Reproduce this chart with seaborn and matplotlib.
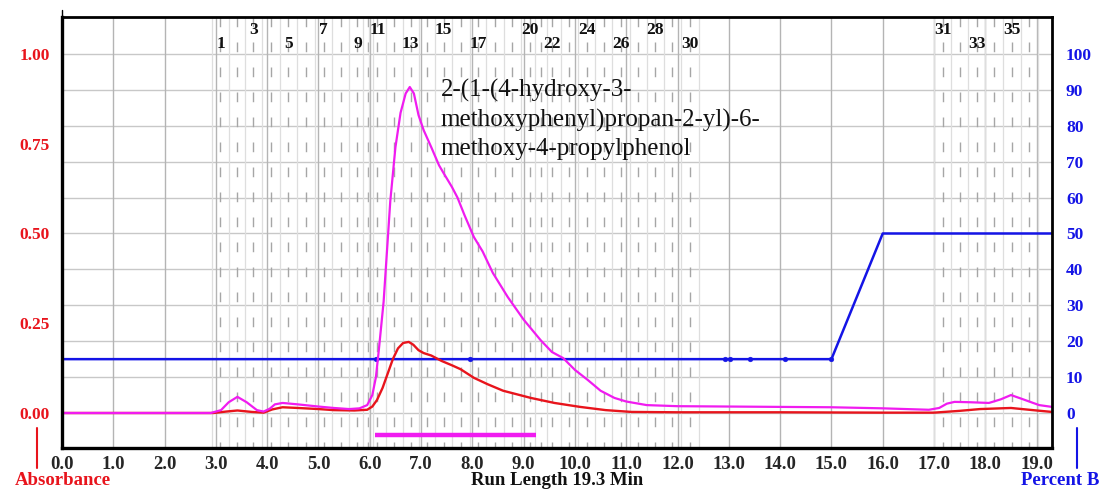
import numpy as np
import matplotlib
matplotlib.use("Agg")
import matplotlib.pyplot as plt
from matplotlib.lines import Line2D
import seaborn as sns

##################################################################################
# Data
##################################################################################
# magenta trace (minutes, absorbance)
mag_t = [0.0, 2.9, 3.1, 3.25, 3.42, 3.6, 3.8, 3.93, 4.05, 4.15, 4.3, 4.6, 5.0,
         5.3, 5.6, 5.8, 5.95, 6.05, 6.12, 6.18, 6.27, 6.4, 6.5, 6.6, 6.7, 6.78,
         6.86, 6.95, 7.05, 7.2, 7.35, 7.44, 7.6, 7.71, 7.85, 8.03, 8.2, 8.4,
         8.69, 9.0, 9.33, 9.55, 9.77, 10.0, 10.25, 10.5, 10.77, 11.0, 11.4,
         12.0, 13.0, 14.0, 15.0, 16.0, 16.9, 17.1, 17.25, 17.4, 17.7, 18.07,
         18.3, 18.5, 18.7, 19.05, 19.3]
mag_a = [0.0, 0.0, 0.008, 0.03, 0.045, 0.03, 0.008, 0.004, 0.012, 0.024, 0.028,
         0.024, 0.018, 0.014, 0.011, 0.013, 0.022, 0.05, 0.1, 0.18, 0.31, 0.59,
         0.74, 0.836, 0.89, 0.908, 0.89, 0.83, 0.788, 0.74, 0.69, 0.668, 0.63,
         0.60, 0.55, 0.49, 0.45, 0.39, 0.323, 0.26, 0.203, 0.17, 0.153, 0.12,
         0.092, 0.062, 0.042, 0.032, 0.022, 0.019, 0.018, 0.017, 0.016, 0.013,
         0.009, 0.014, 0.026, 0.031, 0.03, 0.028, 0.038, 0.05, 0.04, 0.022,
         0.017]

# red trace (minutes, absorbance)
red_t = [0.0, 2.95, 3.2, 3.42, 3.7, 3.93, 4.1, 4.3, 4.6, 5.0, 5.3, 5.7, 5.95,
         6.05, 6.14, 6.25, 6.35, 6.45, 6.55, 6.65, 6.76, 6.85, 6.95, 7.05, 7.2,
         7.4, 7.6, 7.77, 8.03, 8.3, 8.6, 9.14, 9.6, 10.1, 10.6, 11.1, 12.0,
         14.0, 16.0, 17.0, 17.5, 17.9, 18.5, 19.0, 19.3]
red_a = [0.0, 0.0, 0.004, 0.007, 0.003, 0.001, 0.01, 0.016, 0.014, 0.011,
         0.008, 0.007, 0.009, 0.018, 0.036, 0.07, 0.11, 0.15, 0.18, 0.195,
         0.198, 0.19, 0.175, 0.167, 0.16, 0.145, 0.133, 0.122, 0.098, 0.08,
         0.062, 0.042, 0.028, 0.017, 0.008, 0.003, 0.002, 0.002, 0.001, 0.001,
         0.006, 0.011, 0.014, 0.007, 0.003]

# gradient programme (percent B) and its event markers
grad_t = [0.0, 15.0, 16.0, 19.3]
grad_b = [15, 15, 50, 50]
event_t = [6.13, 7.95, 12.93, 13.03, 13.42, 14.10, 15.0]
event_b = [15, 15, 15, 15, 15, 15, 15]

# fraction centres (minutes); fractions 1-10, 11-30, 31-36
frac_a = [3.09, 3.41, 3.73, 4.08, 4.41, 4.75, 5.10, 5.43, 5.76, 5.96]
frac_b = [6.15, 6.48, 6.80, 7.12, 7.44, 7.78, 8.11, 8.44, 8.78, 9.12, 9.34,
          9.56, 9.89, 10.23, 10.56, 10.90, 11.23, 11.56, 11.90, 12.25]
frac_c = [17.17, 17.50, 17.83, 18.17, 18.52, 18.86]
frac_shown = [1, 3, 5, 7, 9, 11, 13, 15, 17, 20, 22, 24, 26, 28, 30, 31, 33, 35]

# collected fraction bar
collect_t = [6.11, 9.24]

x_ticks = list(range(0, 20))
abs_ticks = [0.0, 0.25, 0.5, 0.75, 1.0]
pct_ticks = list(range(0, 101, 10))

compound = ("2-(1-(4-hydroxy-3-\nmethoxyphenyl)propan-2-yl)-6-\n"
            "methoxy-4-propylphenol")

##################################################################################
# Plot
##################################################################################
sns.set_style("white")
plt.rcParams['font.family'] = ['Liberation Serif', 'DejaVu Serif']

RED = '#e8141c'
MAG = '#f01cf0'
BLUE = '#1414e6'

fig = plt.figure(figsize=(11.01, 4.9), dpi=100)
ax = fig.add_axes([0.0563, 0.0857, 0.8992, 0.8796])
ax2 = ax.twinx()

ylo, yhi = -0.0975, 1.103
ax.set_xlim(0, 19.3)
ax.set_ylim(ylo, yhi)
ax2.set_ylim(ylo * 100, yhi * 100)

# background grid on the lower axes
for p in pct_ticks:
    ax2.axhline(p, color='#c8c8c8', lw=1.0, zorder=0)
for m in x_ticks:
    ax2.axvline(m, color='#b4b4b4', lw=1.0, zorder=0)

# fraction boundaries and centre marks
for grp in [frac_a, frac_b, frac_c]:
    bounds = [grp[0] - (grp[1] - grp[0]) / 2]
    bounds += [(grp[i] + grp[i + 1]) / 2 for i in range(len(grp) - 1)]
    bounds += [grp[-1] + (grp[-1] - grp[-2]) / 2]
    for b in bounds:
        ax2.axvline(b, color='#dedede', lw=0.9, zorder=0)
    for c in grp:
        ax2.vlines(c, yhi * 100, ylo * 100, color='#a6a6a6', lw=1.0,
                   linestyles=(0, (7, 11)), zorder=0)

frac_all = frac_a + frac_b + frac_c
for i, n in enumerate(frac_shown):
    yy = 1.028 if i % 2 == 0 else 1.067
    ax.text(frac_all[n - 1], yy, str(n), ha='center', va='center',
            fontsize=12.5, fontweight='bold', color='#111111')

# percent B gradient
sns.lineplot(x=grad_t, y=grad_b, ax=ax2, color=BLUE, linewidth=1.8)
sns.scatterplot(x=event_t, y=event_b, ax=ax2, color=BLUE, s=12,
                edgecolor=BLUE, zorder=3)

# absorbance traces on top
ax.set_zorder(ax2.get_zorder() + 1)
ax.patch.set_visible(False)
sns.lineplot(x=red_t, y=red_a, ax=ax, color=RED, linewidth=1.7, estimator=None)
sns.lineplot(x=mag_t, y=mag_a, ax=ax, color=MAG, linewidth=1.6, estimator=None)
ax.hlines(-0.061, collect_t[0], collect_t[1], color=MAG, lw=3.2)

ax.text(7.38, 0.818, compound, ha='left', va='center', fontsize=18,
        linespacing=1.38, color='#111111')

# ticks
ax.set_xticks(x_ticks)
ax.set_xticklabels([f'{m:.1f}' for m in x_ticks])
ax.set_yticks(abs_ticks)
ax.set_yticklabels([f'{v:.2f}' for v in abs_ticks])
ax2.set_yticks(pct_ticks)
ax2.set_yticklabels([str(p) for p in pct_ticks])
ax.tick_params(axis='x', length=0, pad=6, labelsize=13.5)
ax.tick_params(axis='y', length=0, pad=9, labelsize=12.5, labelcolor=RED)
ax2.tick_params(axis='y', length=0, pad=10, labelsize=12.5, labelcolor=BLUE)
for lab in ax.get_xticklabels() + ax.get_yticklabels() + ax2.get_yticklabels():
    lab.set_fontweight('bold')
ax.set_xlabel('')
ax.set_ylabel('')
ax2.set_ylabel('')

for s in ax2.spines.values():
    s.set_visible(False)
for name, lw in [('left', 2.4), ('bottom', 2.4), ('top', 2.0), ('right', 2.0)]:
    ax.spines[name].set_visible(True)
    ax.spines[name].set_color('black')
    ax.spines[name].set_linewidth(lw)

# figure-level annotations
fig.add_artist(Line2D([0.0563, 0.0563], [0.965, 0.98], color='black', lw=1.0))
fig.add_artist(Line2D([0.0336, 0.0336], [0.045, 0.1265], color=RED, lw=1.5))
fig.add_artist(Line2D([0.978, 0.978], [0.045, 0.1265], color=BLUE, lw=1.5))
fig.text(0.0568, 0.0204, 'Absorbance', ha='center', va='center',
         fontsize=13.5, fontweight='bold', color=RED)
fig.text(0.9628, 0.0204, 'Percent B', ha='center', va='center',
         fontsize=13.5, fontweight='bold', color=BLUE)
fig.text(0.5059, 0.0204, 'Run Length 19.3 Min', ha='center', va='center',
         fontsize=13.5, fontweight='bold', color='#111111')

plt.savefig('out.png', dpi=100)
